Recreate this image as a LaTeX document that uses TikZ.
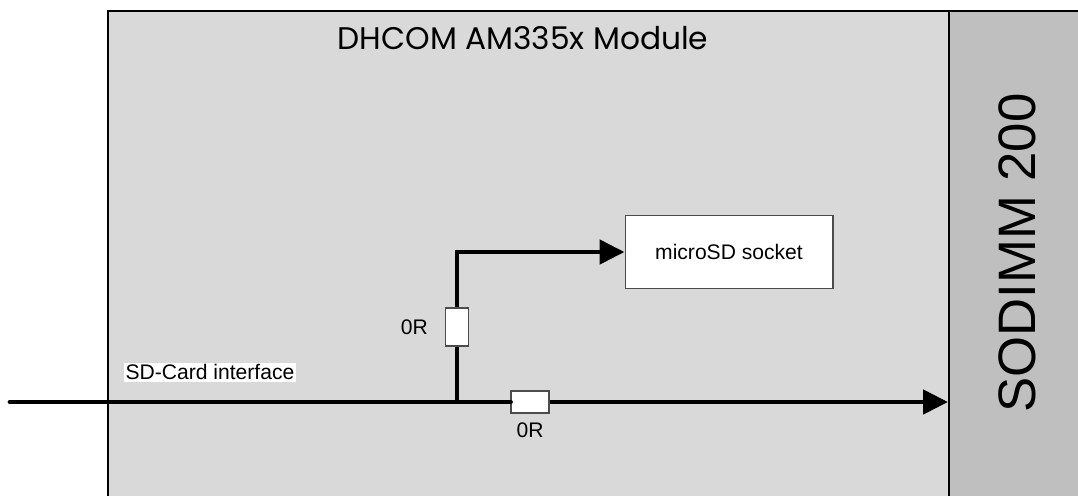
\documentclass[tikz,border=0pt]{standalone}
\usepackage{fontspec}
\setmainfont{Liberation Sans}
\newfontfamily\titlefont{Poppins}
\usetikzlibrary{positioning,calc,arrows.meta}

\begin{document}
\begin{tikzpicture}[
  x=0.02cm, y=-0.02cm,
  font=\fontsize{12}{14}\selectfont,
  board/.style={draw, line width=1pt, fill=black!15, inner sep=0pt},
  conn/.style={draw, line width=1pt, fill=black!25, inner sep=0pt},
  block/.style={draw=black!70, line width=0.6pt, fill=white, minimum width=4.16cm,
                minimum height=1.46cm, inner sep=0pt},
  res/.style={draw=black!70, line width=0.6pt, fill=white, inner sep=0pt},
  lbl/.style={inner sep=1pt},
  sig/.style={line width=2.8pt},
  sigarr/.style={line width=2.8pt, -{Triangle[length=0.5cm,width=0.48cm]}},
]
  \useasboundingbox (0,0) rectangle (1078,495);

  %=================== module and connector ===================
  \node[board, minimum width=16.82cm, minimum height=9.9cm, anchor=north west] (mod) at (107,10) {};
  \node[font=\titlefont\fontsize{17.8}{20}\selectfont] (modname) at (523,38) {DHCOM AM335x Module};
  \node[conn, minimum width=2.8cm, minimum height=9.9cm, anchor=north west] (sodimm) at (948,10) {};
  \node[rotate=90, font=\fontsize{30}{34}\selectfont] (sodname) at (1017,253) {SODIMM 200};

  %=================== microSD path ===================
  \node[block] (socket) at (729,252) {microSD socket};
  \node[res, minimum width=0.46cm, minimum height=0.76cm] (rv) at (457,327) {};
  \node[lbl, left=3mm of rv] (rvlbl) {0R};
  \node[res, minimum width=0.76cm, minimum height=0.44cm] (rh) at (530,402) {};
  \node[lbl, below=1.5mm of rh] (rhlbl) {0R};

  \node[fill=white, inner sep=1pt] (sdlbl) at (210,372) {SD-Card interface};

  \coordinate (sdin) at (10,402);
  \coordinate (jn) at (457,402);

  \draw[sig, line cap=round] (sdin) -- (rh.west);
  \draw[sigarr] (rh.east) -- (sodimm.west |- rh.east);
  \draw[sig] (jn) -- (rv.south);
  \draw[sigarr] (rv.north) |- (socket.west);
\end{tikzpicture}
\end{document}
